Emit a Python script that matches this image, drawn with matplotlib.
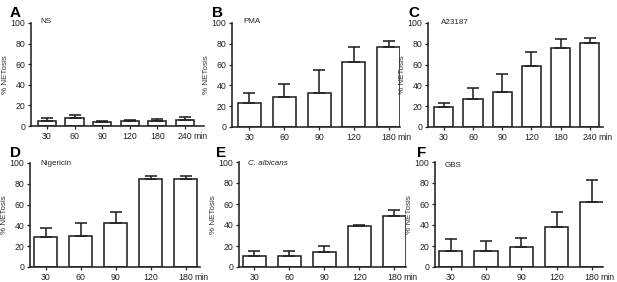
import matplotlib
matplotlib.use("Agg")
import matplotlib.pyplot as plt

plt.rcParams['font.family'] = ['Liberation Sans', 'DejaVu Sans']

# ---- data ----
labels_6 = ['30', '60', '90', '120', '180', '240']
labels_5 = ['30', '60', '90', '120', '180']

ns_mean = [5.2, 7.8, 3.9, 4.5, 4.5, 5.8]
ns_err = [2.6, 2.6, 1.3, 1.0, 2.3, 2.6]

pma_mean = [23.2, 29.0, 32.9, 62.3, 76.8]
pma_err = [9.7, 12.3, 21.9, 14.2, 5.5]

a23_mean = [19.6, 26.7, 34.1, 58.5, 75.9, 80.7]
a23_err = [3.9, 10.9, 17.3, 13.8, 8.3, 4.8]

nig_mean = [28.8, 30.1, 42.3, 84.9, 84.9]
nig_err = [8.7, 12.5, 10.6, 2.3, 2.6]

cal_mean = [10.5, 10.9, 14.4, 38.7, 48.2]
cal_err = [5.2, 4.1, 5.4, 1.6, 5.8]

gbs_mean = [15.7, 15.0, 19.2, 38.0, 62.3]
gbs_err = [10.8, 9.3, 8.0, 14.4, 20.7]

W, H = 617, 282
fig = plt.figure(figsize=(W / 100, H / 100), dpi=100)


def px(x, y):
    return x / W, 1 - y / H


panels = [
    # letter, title, italic, labels, mean, err, (left, right, top, bottom px), xlim, letter pos, title pos
    ('A', 'NS', False, labels_6, ns_mean, ns_err, (31, 204, 23, 126), (-0.58, 5.69), (10, 17), (40, 23)),
    ('B', 'PMA', False, labels_5, pma_mean, pma_err, (232, 400, 23, 127), (-0.5, 4.32), (212, 17), (243, 23)),
    ('C', 'A23187', False, labels_6, a23_mean, a23_err, (428, 603, 23, 127), (-0.54, 5.45), (408, 17), (441, 24)),
    ('D', 'Nigericin', False, labels_5, nig_mean, nig_err, (30, 200, 163, 267), (-0.45, 4.41), (10, 157), (40, 165)),
    ('E', 'C. albicans', True, labels_5, cal_mean, cal_err, (239, 406, 162, 267), (-0.44, 4.33), (216, 157), (248, 165)),
    ('F', 'GBS', False, labels_5, gbs_mean, gbs_err, (435, 603, 162, 267), (-0.44, 4.31), (417, 157), (445, 167)),
]

lw = 1.15
for letter, title, italic, labels, mean, err, box, xlim, lpos, tpos in panels:
    l, r, t, b = box
    ax = fig.add_axes([l / W, 1 - b / H, (r - l) / W, (b - t) / H])
    n = len(mean)
    xs = list(range(n))
    ax.bar(xs, mean, width=0.66, color='white', edgecolor='#222222', linewidth=lw, zorder=2)
    ax.errorbar(xs, mean, yerr=[[0] * n, err], fmt='none', ecolor='#222222',
                elinewidth=lw, capsize=4, capthick=lw, zorder=3)
    ax.set_xlim(*xlim)
    ax.set_ylim(0, 100)
    ax.set_yticks([0, 20, 40, 60, 80, 100])
    ax.set_xticks(xs)
    ax.set_xticklabels(labels)
    for s in ['top', 'right']:
        ax.spines[s].set_visible(False)
    for s in ['left', 'bottom']:
        ax.spines[s].set_linewidth(lw)
        ax.spines[s].set_color('#222222')
    ax.tick_params(axis='both', direction='out', length=2.5, width=0.9, colors='#222222',
                   labelsize=6.3, pad=1.5, labelcolor='#222222')
    ax.set_ylabel('% NETosis', fontsize=5.8, labelpad=1, color='#333333')
    ax.annotate('min', xy=(n - 1, 0), xycoords=('data', 'axes fraction'),
                xytext=(6.3, -4), textcoords='offset points', ha='left', va='top',
                fontsize=6.3, color='#222222')
    fig.text(*px(*lpos), letter, fontsize=11, fontweight='bold', ha='left', va='baseline')
    fig.text(*px(*tpos), title, fontsize=5.8, ha='left', va='baseline',
             style='italic' if italic else 'normal', color='#222222')

fig.savefig('out.png', dpi=100)
